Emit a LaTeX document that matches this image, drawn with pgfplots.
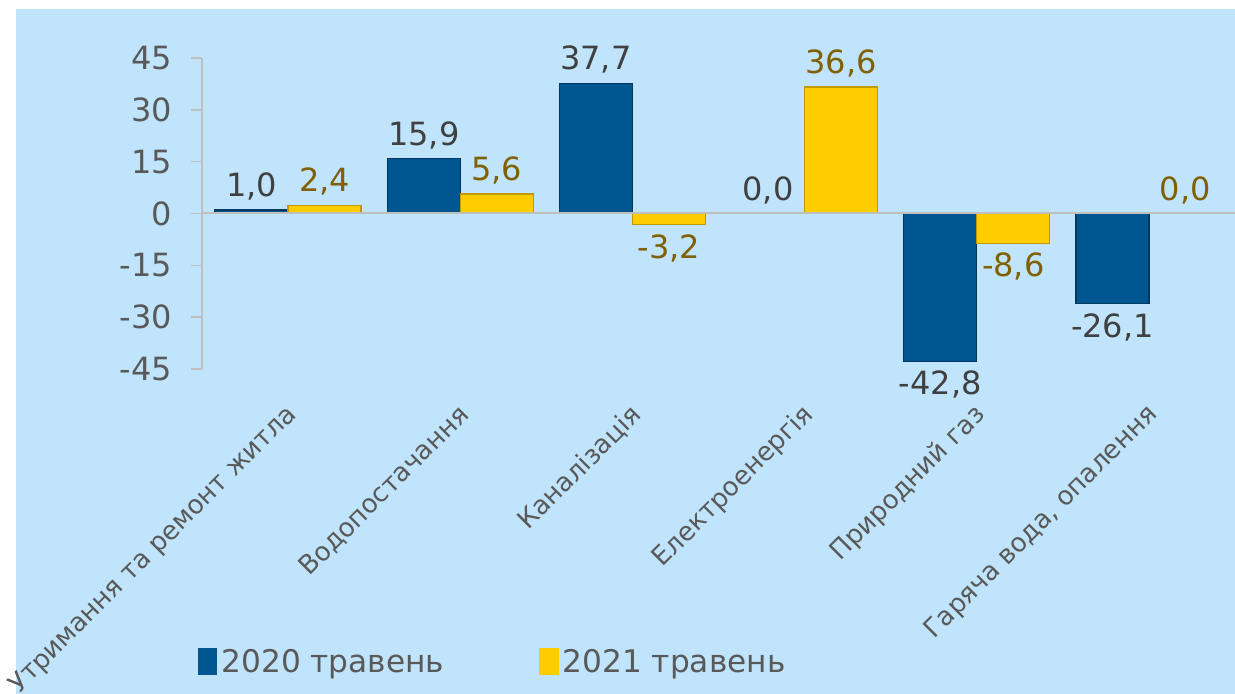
\documentclass[border=0pt]{standalone}
\usepackage{fontspec}
\setmainfont{DejaVu Sans}
\usepackage{pgfplots}
\pgfplotsset{compat=1.18}

\definecolor{bgblue}{RGB}{192,228,252}
\definecolor{bar20}{RGB}{0,86,145}
\definecolor{bar21}{RGB}{255,204,0}
\definecolor{lab20}{RGB}{64,64,64}
\definecolor{lab21}{RGB}{128,96,0}
\definecolor{tickgray}{RGB}{89,89,89}
\definecolor{linegray}{RGB}{191,191,191}

\begin{document}
\begin{tikzpicture}
% page size and chart background
\useasboundingbox (-101pt,-162.5pt) rectangle (516.5pt,184.5pt);
\fill[bgblue] (-93pt,-162.5pt) rectangle (516.5pt,180pt);

\begin{axis}[
    at={(0,0)}, anchor=south west,
    scale only axis,
    width=516.5pt, height=155.5pt,
    ybar=0pt, bar width=36.5pt,
    xmin=-0.5, xmax=5.5,
    ymin=-45, ymax=45,
    ytick={-45,-30,-15,0,15,30,45},
    xtick={0,1,2,3,4,5},
    xticklabels={Утримання та ремонт житла, Водопостачання, Каналізація,
        Електроенергія, Природний газ, {Гаряча вода, опалення}},
    axis lines=left,
    axis line style={-, linegray, line width=0.8pt},
    x axis line style={draw=none},
    xtick style={draw=none},
    ytick style={linegray, line width=0.8pt},
    tick align=outside,
    major tick length=5.5pt,
    /pgf/number format/assume math mode=true,
    yticklabel style={font=\fontsize{16}{18}\selectfont, text=tickgray, xshift=-6pt},
    xticklabel style={font=\fontsize{13}{15}\selectfont, text=tickgray,
        xshift=4.8pt, yshift=-13pt, rotate=45, anchor=east},
    nodes near coords={\pgfmathprintnumber[fixed,fixed zerofill,precision=1,use comma,assume math mode=true]{\pgfplotspointmeta}},
    nodes near coords align={vertical},
    every node near coord/.append style={font=\fontsize{16}{18}\selectfont, inner sep=4.5pt},
    legend columns=2,
    legend style={at={(-0.01,-0.942)}, anchor=west, draw=none, fill=none,
        font=\fontsize{15.6}{17}\selectfont, text=tickgray,
        /tikz/every even column/.append style={column sep=45.5pt}},
]
\addplot[fill=bar20, draw=bar20!65!black, line width=0.7pt,
    every node near coord/.append style={text=lab20},
    legend image code/.code={\fill[bar20] (0pt,-6pt) rectangle (9pt,6.5pt);}]
    coordinates {(0,1.0) (1,15.9) (2,37.7) (3,0.0) (4,-42.8) (5,-26.1)};
\addplot[fill=bar21, draw=bar21!75!black, line width=0.7pt,
    every node near coord/.append style={text=lab21},
    legend image code/.code={\fill[bar21] (0pt,-6pt) rectangle (9pt,6.5pt);}]
    coordinates {(0,2.4) (1,5.6) (2,-3.2) (3,36.6) (4,-8.6) (5,0.0)};
\legend{2020 травень, 2021 травень}
\draw[linegray, line width=1pt] (axis cs:-0.5,0) -- (axis cs:5.5,0);
\end{axis}
\end{tikzpicture}
\end{document}
